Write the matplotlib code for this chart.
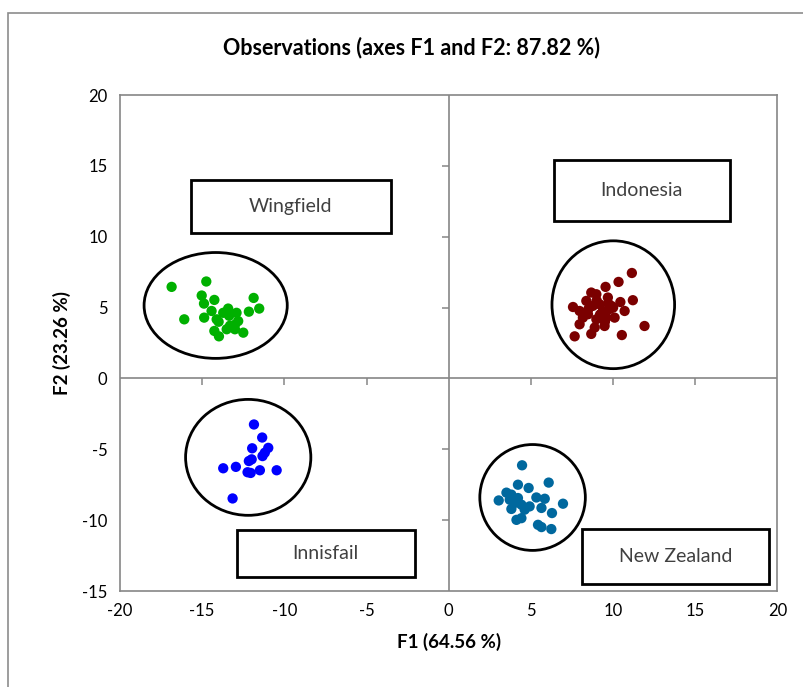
import matplotlib.pyplot as plt
from matplotlib.patches import Ellipse, Rectangle

plt.rcParams['font.family'] = ['Lato', 'DejaVu Sans']
plt.rcParams['axes.unicode_minus'] = False

# observations (F1, F2)
wing_x = [-16.86, -14.75, -16.09, -15.03, -14.89, -14.26, -14.88, -14.43, -14.12, -14.26, -13.98,
          -13.42, -13.36, -13.51, -12.91, -12.81, -13.01, -12.50, -12.16, -11.87, -11.53, -13.72,
          -13.31, -14.0, -13.0]
wing_y = [6.46, 6.84, 4.17, 5.85, 5.28, 5.54, 4.29, 4.76, 4.17, 3.35, 2.97,
          4.93, 4.42, 3.47, 4.63, 4.05, 3.47, 3.23, 4.71, 5.68, 4.93, 4.63,
          3.72, 4.0, 3.8]

indo_x = [11.14, 10.33, 9.54, 8.67, 8.98, 9.68, 8.37, 11.20, 10.44, 7.56, 7.96, 8.77, 9.18, 9.89,
          10.70, 9.38, 8.47, 10.09, 8.98, 7.96, 9.48, 8.88, 11.91, 8.67, 7.66, 10.53, 9.59, 8.16,
          9.2, 9.8, 9.0, 10.0, 9.5, 8.5, 9.3, 9.7]
indo_y = [7.44, 6.81, 6.46, 6.06, 5.94, 5.71, 5.47, 5.52, 5.39, 5.04, 4.76, 5.12, 5.23, 5.12,
          4.76, 4.76, 4.53, 4.29, 4.17, 3.82, 3.70, 3.59, 3.70, 3.14, 2.97, 3.06, 4.29, 4.29,
          4.5, 4.9, 5.5, 5.0, 4.0, 4.9, 4.6, 5.3]

inni_x = [-11.85, -11.35, -10.98, -11.96, -11.19, -11.33, -11.99, -12.16, -13.72, -12.95, -11.49,
          -10.47, -12.24, -12.05, -13.15]
inni_y = [-3.25, -4.17, -4.90, -4.93, -5.24, -5.48, -5.71, -5.83, -6.34, -6.24, -6.48,
          -6.48, -6.62, -6.67, -8.47]

nz_x = [4.46, 6.08, 4.21, 4.86, 3.04, 3.81, 3.71, 4.21, 5.33, 5.84, 6.95, 4.42, 4.01, 4.92,
        3.81, 4.62, 5.64, 6.28, 4.12, 4.42, 5.43, 5.64, 6.24, 3.51]
nz_y = [-6.13, -7.35, -7.50, -7.73, -8.61, -8.20, -8.56, -8.44, -8.40, -8.49, -8.84, -8.91, -8.79, -9.03,
        -9.21, -9.26, -9.14, -9.50, -9.98, -9.86, -10.33, -10.49, -10.63, -8.06]

groups = ['Wingfield', 'Indonesia', 'Innisfail', 'New Zealand']
colors = ['#00B000', '#7B0000', '#0000FF', '#00689E']

x_ticks = [-20, -15, -10, -5, 0, 5, 10, 15, 20]
y_ticks = [-15, -10, -5, 0, 5, 10, 15, 20]

# layout: ellipses (cx, cy, w, h) and label boxes (x0, y0, x1, y1) in data units
ellipses = [(-14.18, 5.15, 8.71, 7.47), (10.01, 5.20, 7.46, 9.02),
            (-12.20, -5.57, 7.62, 8.18), (5.10, -8.40, 6.42, 7.47)]
boxes = [(-15.70, 10.23, -3.53, 14.00), (6.40, 11.12, 17.10, 15.42),
         (-12.91, -13.98, -2.07, -10.68), (8.13, -14.52, 19.51, -10.61)]

fig = plt.figure(figsize=(8.04, 6.87), dpi=100)
ax = fig.add_axes([120/804, 1 - 591/687, 657.5/804, 496/687])

grey = '#868686'
for s in ax.spines.values():
    s.set_color(grey)
    s.set_linewidth(1.2)
ax.axhline(0, color=grey, lw=1.2, zorder=1)
ax.axvline(0, color=grey, lw=1.2, zorder=1)
# small tick marks on the zero lines
xt = [t for t in x_ticks if t not in (-20, 0, 20)]
yt = [t for t in y_ticks if t not in (-15, 0, 20)]
ax.plot(xt, [0] * len(xt), ls='none', marker=3, ms=5, mew=1.1, color=grey, zorder=1)
ax.plot([0] * len(yt), yt, ls='none', marker=0, ms=5, mew=1.1, color=grey, zorder=1)

for gx, gy, c in zip([wing_x, indo_x, inni_x, nz_x], [wing_y, indo_y, inni_y, nz_y], colors):
    ax.scatter(gx, gy, s=55, color=c, edgecolors='none', zorder=3)

for (cx, cy, w, h) in ellipses:
    ax.add_patch(Ellipse((cx, cy), w, h, fill=False, ec='black', lw=2, zorder=2))

for (x0, y0, x1, y1), name in zip(boxes, groups):
    ax.add_patch(Rectangle((x0, y0), x1 - x0, y1 - y0, fill=True, fc='white', ec='black', lw=2, zorder=2))
    ax.text((x0 + x1) / 2, (y0 + y1) / 2, name, ha='center', va='center', fontsize=14,
            color='#404040', zorder=3)

ax.set_xlim(-20, 20)
ax.set_ylim(-15, 20)
ax.set_xticks(x_ticks)
ax.set_yticks(y_ticks)
ax.tick_params(length=0, labelsize=12, pad=9)
ax.set_xlabel('F1 (64.56 %)', fontsize=13.5, fontweight='bold', labelpad=10)
ax.set_ylabel('F2 (23.26 %)', fontsize=13.5, fontweight='bold', labelpad=8)
fig.text(412/804, 1 - 48/687, 'Observations (axes F1 and F2: 87.82 %)', ha='center', va='center',
         fontsize=15.5, fontweight='bold')

# outer chart border
fig.patches.append(Rectangle((8/804, -0.05), 1.0, 1 - 13/687 + 0.05, transform=fig.transFigure,
                             fill=False, ec='#8c8c8c', lw=1.2))

fig.savefig('out.png', dpi=100)
